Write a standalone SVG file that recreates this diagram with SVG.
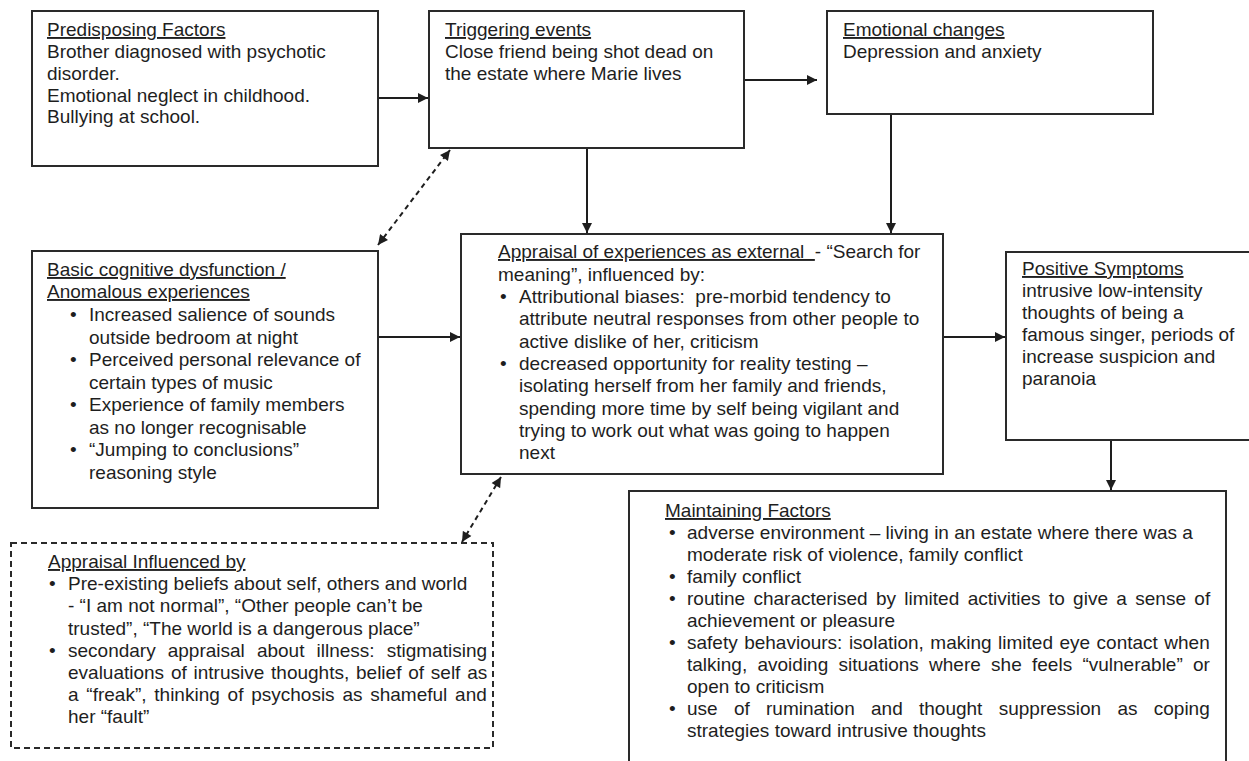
<svg xmlns="http://www.w3.org/2000/svg" width="1249" height="761" viewBox="0 0 1249 761">
<style>
  .box { fill: #ffffff; stroke: #2a2a2a; stroke-width: 2; }
  .dbox { fill: #ffffff; stroke: #2a2a2a; stroke-width: 2; stroke-dasharray: 6 4; }
  .t { font-family: "Liberation Sans", Arial, sans-serif; font-size: 19px; fill: #1e1e1e; }
  .u { text-decoration: underline; }
  .conn { stroke: #1e1e1e; stroke-width: 2; fill: none; }
  .solid { marker-end: url(#ah); }
  .dash { stroke-dasharray: 5 4; marker-end: url(#ah); marker-start: url(#ah); }
</style>
<defs>
  <marker id="ah" viewBox="0 0 10 10" refX="10" refY="5" markerWidth="11" markerHeight="10" markerUnits="userSpaceOnUse" orient="auto-start-reverse">
    <path d="M0,0 L10,5 L0,10 z" fill="#1e1e1e"/>
  </marker>
</defs>
<rect width="1249" height="761" fill="#ffffff"/>

<g id="connectors">
  <line class="conn solid" x1="378" y1="98" x2="428" y2="98"/>
  <line class="conn solid" x1="744" y1="80" x2="817" y2="80"/>
  <line class="conn solid" x1="587" y1="148" x2="587" y2="233"/>
  <line class="conn solid" x1="891" y1="114" x2="891" y2="233"/>
  <line class="conn solid" x1="378" y1="337" x2="460" y2="337"/>
  <line class="conn solid" x1="943" y1="337" x2="1005" y2="337"/>
  <line class="conn solid" x1="1111" y1="440" x2="1111" y2="490"/>
  <line class="conn dash" x1="378" y1="245" x2="450" y2="150"/>
  <line class="conn dash" x1="501" y1="477" x2="462" y2="542"/>
</g>

<g id="predisposing">
  <rect class="box" x="32" y="11" width="346" height="155"/>
  <text class="t" x="47" y="36"><tspan class="u">Predisposing Factors</tspan></text>
  <text class="t" x="47" y="58">Brother diagnosed with psychotic</text>
  <text class="t" x="47" y="80">disorder.</text>
  <text class="t" x="47" y="102">Emotional neglect in childhood.</text>
  <text class="t" x="47" y="123">Bullying at school.</text>
</g>

<g id="triggering">
  <rect class="box" x="429" y="11" width="315" height="137"/>
  <text class="t" x="445" y="36"><tspan class="u">Triggering events</tspan></text>
  <text class="t" x="445" y="58">Close friend being shot dead on</text>
  <text class="t" x="445" y="80">the estate where Marie lives</text>
</g>

<g id="emotional">
  <rect class="box" x="827" y="11" width="326" height="103"/>
  <text class="t" x="843" y="36"><tspan class="u">Emotional changes</tspan></text>
  <text class="t" x="843" y="58">Depression and anxiety</text>
</g>

<g id="basic">
  <rect class="box" x="32" y="251" width="346" height="257"/>
  <text class="t" x="47" y="276"><tspan class="u">Basic cognitive dysfunction /</tspan></text>
  <text class="t" x="47" y="298"><tspan class="u">Anomalous experiences</tspan></text>
  <text class="t" x="70" y="321">•</text>
  <text class="t" x="89" y="321">Increased salience of sounds</text>
  <text class="t" x="89" y="343.5">outside bedroom at night</text>
  <text class="t" x="70" y="366">•</text>
  <text class="t" x="89" y="366">Perceived personal relevance of</text>
  <text class="t" x="89" y="388.5">certain types of music</text>
  <text class="t" x="70" y="411">•</text>
  <text class="t" x="89" y="411">Experience of family members</text>
  <text class="t" x="89" y="433.5">as no longer recognisable</text>
  <text class="t" x="70" y="456">•</text>
  <text class="t" x="89" y="456">“Jumping to conclusions”</text>
  <text class="t" x="89" y="478.5">reasoning style</text>
</g>

<g id="appraisal">
  <rect class="box" x="461" y="234" width="482" height="240"/>
  <text class="t" x="498" y="258"><tspan class="u">Appraisal of experiences as external&#160;&#160;</tspan>- “Search for</text>
  <text class="t" x="498" y="280.5">meaning”, influenced by:</text>
  <text class="t" x="500" y="303">•</text>
  <text class="t" x="519" y="303">Attributional biases:&#160; pre-morbid tendency to</text>
  <text class="t" x="519" y="325">attribute neutral responses from other people to</text>
  <text class="t" x="519" y="347.5">active dislike of her, criticism</text>
  <text class="t" x="500" y="370">•</text>
  <text class="t" x="519" y="370">decreased opportunity for reality testing –</text>
  <text class="t" x="519" y="392">isolating herself from her family and friends,</text>
  <text class="t" x="519" y="414.5">spending more time by self being vigilant and</text>
  <text class="t" x="519" y="437">trying to work out what was going to happen</text>
  <text class="t" x="519" y="459">next</text>
</g>

<g id="positive">
  <rect class="box" x="1006" y="252" width="260" height="188"/>
  <text class="t" x="1022" y="275"><tspan class="u">Positive Symptoms</tspan></text>
  <text class="t" x="1022" y="297">intrusive low-intensity</text>
  <text class="t" x="1022" y="319">thoughts of being a</text>
  <text class="t" x="1022" y="341">famous singer, periods of</text>
  <text class="t" x="1022" y="363">increase suspicion and</text>
  <text class="t" x="1022" y="385">paranoia</text>
</g>

<g id="influenced">
  <rect class="dbox" x="11" y="543" width="482" height="205"/>
  <text class="t" x="48" y="568"><tspan class="u">Appraisal Influenced by</tspan></text>
  <text class="t" x="49" y="590">•</text>
  <text class="t" x="68" y="590">Pre-existing beliefs about self, others and world</text>
  <text class="t" x="68" y="612">- “I am not normal”, “Other people can’t be</text>
  <text class="t" x="68" y="635">trusted”, “The world is a dangerous place”</text>
  <text class="t" x="49" y="657">•</text>
  <text class="t" x="68" y="657" word-spacing="6.8">secondary appraisal about illness: stigmatising</text>
  <text class="t" x="68" y="679" word-spacing="1.5">evaluations of intrusive thoughts, belief of self as</text>
  <text class="t" x="68" y="701" word-spacing="2.5">a “freak”, thinking of psychosis as shameful and</text>
  <text class="t" x="68" y="723">her “fault”</text>
</g>

<g id="maintaining">
  <rect class="box" x="629" y="491" width="597" height="300"/>
  <text class="t" x="665" y="517"><tspan class="u">Maintaining Factors</tspan></text>
  <text class="t" x="669" y="539">•</text>
  <text class="t" x="687" y="539">adverse environment – living in an estate where there was a</text>
  <text class="t" x="687" y="561">moderate risk of violence, family conflict</text>
  <text class="t" x="669" y="583">•</text>
  <text class="t" x="687" y="583">family conflict</text>
  <text class="t" x="669" y="605">•</text>
  <text class="t" x="687" y="605" word-spacing="3.1">routine characterised by limited activities to give a sense of</text>
  <text class="t" x="687" y="627">achievement or pleasure</text>
  <text class="t" x="669" y="649">•</text>
  <text class="t" x="687" y="649" word-spacing="1.2">safety behaviours: isolation, making limited eye contact when</text>
  <text class="t" x="687" y="671" word-spacing="5">talking, avoiding situations where she feels “vulnerable” or</text>
  <text class="t" x="687" y="693">open to criticism</text>
  <text class="t" x="669" y="715">•</text>
  <text class="t" x="687" y="715" word-spacing="11">use of rumination and thought suppression as coping</text>
  <text class="t" x="687" y="737">strategies toward intrusive thoughts</text>
</g>
</svg>
